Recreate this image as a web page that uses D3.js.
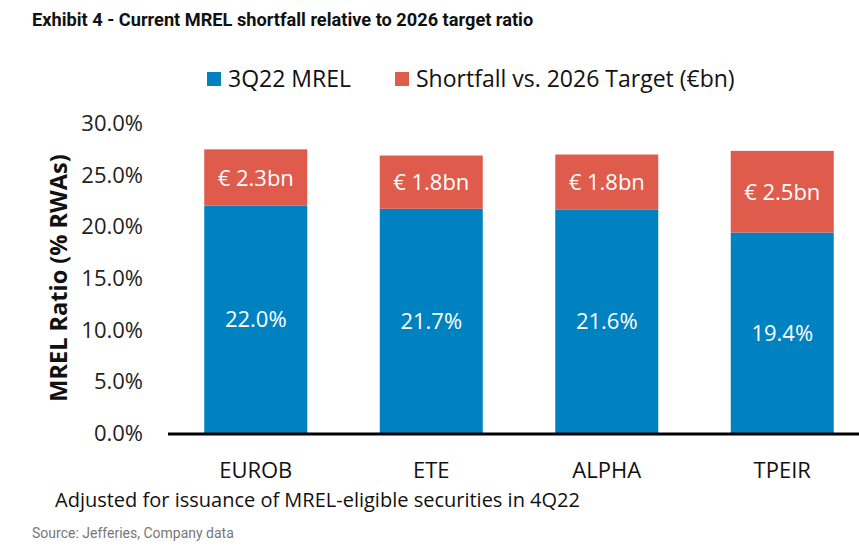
<!DOCTYPE html>
<html>
<head>
<meta charset="utf-8">
<script src="https://cdn.jsdelivr.net/npm/d3@7"></script>
<style>
  body { margin: 0; background: #fff; }
  svg text { font-family: "Open Sans", "Noto Sans", sans-serif; }
</style>
</head>
<body>
<div id="chart"></div>
<script>
var banks = ["EUROB", "ETE", "ALPHA", "TPEIR"];
var mrel = [22.0, 21.7, 21.6, 19.4];
var shortfall = [5.45, 5.15, 5.35, 7.9];
var shortfallLabels = ["€ 2.3bn", "€ 1.8bn", "€ 1.8bn", "€ 2.5bn"];
var yTicks = [0, 5, 10, 15, 20, 25, 30];

var svgWidth = 859;
var svgHeight = 550;

var svg = d3.select("#chart")
  .append("svg")
  .attr("width", svgWidth)
  .attr("height", svgHeight);

// title
svg.append("text")
  .attr("x", 32)
  .attr("y", 26)
  .style("font-family", "Roboto, sans-serif")
  .style("font-weight", "bold")
  .style("font-size", "18.2px")
  .attr("fill", "#111")
  .text("Exhibit 4 - Current MREL shortfall relative to 2026 target ratio");

var xScale = d3.scaleBand()
  .domain(banks)
  .range([168, 870])
  .paddingInner(0.413)
  .paddingOuter(0.2065);

var yScale = d3.scaleLinear()
  .domain([0, 30])
  .range([433, 123]);

// y tick labels
svg.append("g")
  .selectAll("text")
  .data(yTicks)
  .enter()
  .append("text")
  .attr("x", 143)
  .attr("y", d => yScale(d) + 8)
  .attr("text-anchor", "end")
  .style("font-size", "22px")
  .attr("fill", "#222")
  .text(d => d.toFixed(1) + "%");

// y axis title
svg.append("text")
  .attr("transform", "translate(67, 278) rotate(-90)")
  .attr("text-anchor", "middle")
  .style("font-size", "23.5px")
  .style("font-weight", "bold")
  .attr("fill", "#111")
  .text("MREL Ratio (% RWAs)");

var rows = banks.map((b, i) => ({ bank: b, mrel: mrel[i], gap: shortfall[i], label: shortfallLabels[i] }));

// blue bars
svg.append("g")
  .selectAll("rect")
  .data(rows)
  .enter()
  .append("rect")
  .attr("x", d => xScale(d.bank))
  .attr("width", xScale.bandwidth())
  .attr("y", d => yScale(d.mrel))
  .attr("height", d => yScale(0) - yScale(d.mrel))
  .attr("fill", "#0082C1");

// red bars
svg.append("g")
  .selectAll("rect")
  .data(rows)
  .enter()
  .append("rect")
  .attr("x", d => xScale(d.bank))
  .attr("width", xScale.bandwidth())
  .attr("y", d => yScale(d.mrel + d.gap))
  .attr("height", d => yScale(d.mrel) - yScale(d.mrel + d.gap))
  .attr("fill", "#DF5B4B");

// labels in bars
svg.append("g")
  .selectAll("text")
  .data(rows)
  .enter()
  .append("text")
  .attr("x", d => xScale(d.bank) + xScale.bandwidth() / 2)
  .attr("y", d => yScale(d.mrel / 2) + 8)
  .attr("text-anchor", "middle")
  .style("font-size", "22px")
  .attr("fill", "#fff")
  .text(d => d.mrel.toFixed(1) + "%");

svg.append("g")
  .selectAll("text")
  .data(rows)
  .enter()
  .append("text")
  .attr("x", d => xScale(d.bank) + xScale.bandwidth() / 2)
  .attr("y", d => yScale(d.mrel + d.gap / 2) + 8)
  .attr("text-anchor", "middle")
  .style("font-size", "22px")
  .attr("fill", "#fff")
  .text(d => d.label);

// baseline
svg.append("line")
  .attr("x1", 168)
  .attr("x2", 859)
  .attr("y1", yScale(0) + 1)
  .attr("y2", yScale(0) + 1)
  .attr("stroke", "#000")
  .attr("stroke-width", 3);

// x labels
svg.append("g")
  .selectAll("text")
  .data(banks)
  .enter()
  .append("text")
  .attr("x", d => xScale(d) + xScale.bandwidth() / 2)
  .attr("y", 478)
  .attr("text-anchor", "middle")
  .style("font-size", "22px")
  .attr("fill", "#111")
  .text(d => d);

// legend
var legendItems = [
  { label: "3Q22 MREL", color: "#0082C1", x: 207 },
  { label: "Shortfall vs. 2026 Target (€bn)", color: "#DF5B4B", x: 395 }
];
var legend = svg.append("g");
legend.selectAll("rect")
  .data(legendItems)
  .enter()
  .append("rect")
  .attr("x", d => d.x)
  .attr("y", 72)
  .attr("width", 14)
  .attr("height", 14)
  .attr("fill", d => d.color);
legend.selectAll("text")
  .data(legendItems)
  .enter()
  .append("text")
  .attr("x", d => d.x + 21)
  .attr("y", 87)
  .style("font-size", "23px")
  .attr("fill", "#111")
  .text(d => d.label);

// footnote
svg.append("text")
  .attr("x", 55)
  .attr("y", 507)
  .style("font-size", "20px")
  .attr("fill", "#111")
  .text("Adjusted for issuance of MREL-eligible securities in 4Q22");

svg.append("text")
  .attr("x", 32)
  .attr("y", 538)
  .style("font-family", "Roboto, sans-serif")
  .style("font-size", "14px")
  .attr("fill", "#777")
  .text("Source: Jefferies, Company data");
</script>
</body>
</html>
